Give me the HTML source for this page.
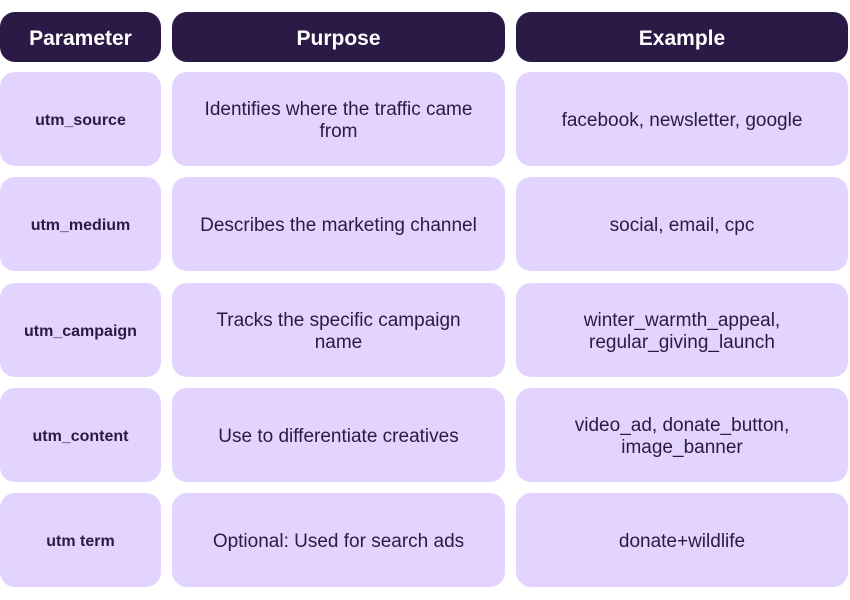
<!DOCTYPE html>
<html><head><meta charset="utf-8"><style>
html,body{margin:0;padding:0;background:#fff;width:850px;height:600px;overflow:hidden}
.b{position:absolute;display:flex;align-items:center;justify-content:center;text-align:center;border-radius:15px;font-family:"Liberation Sans",sans-serif;box-sizing:border-box;padding:3px 18px 0;line-height:22px}
.h{background:#2a1a45;color:#fff;font-weight:bold;font-size:21px;top:12px;height:50px}
.c{background:#e2d4ff;color:#2a1a45;font-size:19px;height:94px}
.p{font-weight:bold;font-size:16px}
.c1{left:0;width:161px}.c2{left:172px;width:333px}.c3{left:516px;width:332px}
</style></head><body>
<div class="b h c1">Parameter</div>
<div class="b h c2">Purpose</div>
<div class="b h c3">Example</div>

<div class="b c c1 p" style="top:72px">utm_source</div>
<div class="b c c2" style="top:72px">Identifies where the traffic came from</div>
<div class="b c c3" style="top:72px">facebook, newsletter, google</div>

<div class="b c c1 p" style="top:177px">utm_medium</div>
<div class="b c c2" style="top:177px">Describes the marketing channel</div>
<div class="b c c3" style="top:177px">social, email, cpc</div>

<div class="b c c1 p" style="top:283px">utm_campaign</div>
<div class="b c c2" style="top:283px;padding-left:40px;padding-right:40px">Tracks the specific campaign<br>name</div>
<div class="b c c3" style="top:283px">winter_warmth_appeal,<br>regular_giving_launch</div>

<div class="b c c1 p" style="top:388px">utm_content</div>
<div class="b c c2" style="top:388px">Use to differentiate creatives</div>
<div class="b c c3" style="top:388px">video_ad, donate_button,<br>image_banner</div>

<div class="b c c1 p" style="top:493px">utm term</div>
<div class="b c c2" style="top:493px">Optional: Used for search ads</div>
<div class="b c c3" style="top:493px">donate+wildlife</div>
</body></html>
